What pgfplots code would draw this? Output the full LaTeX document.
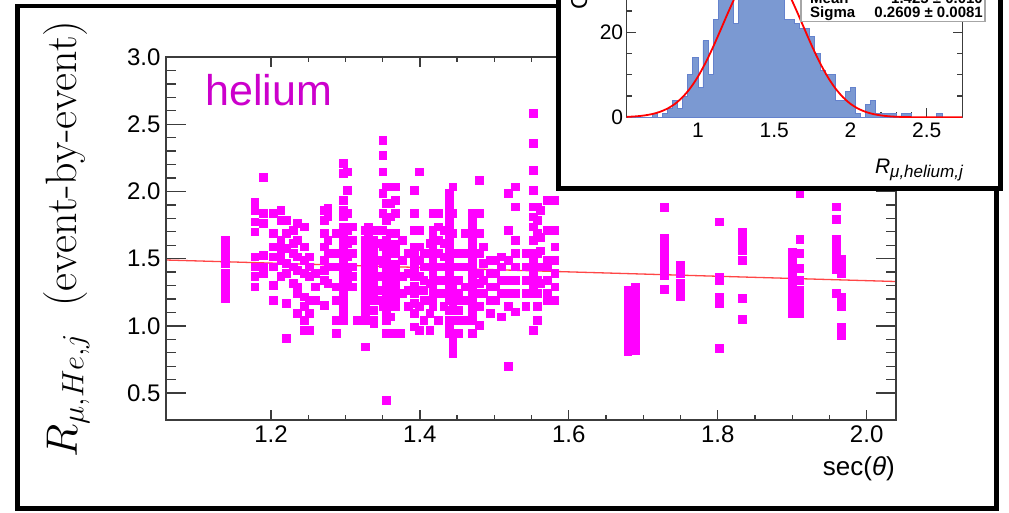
\documentclass[border=0pt]{standalone}
\IfFileExists{fix-cm.sty}{\usepackage{fix-cm}}{}
\usepackage{fontspec}
\newfontfamily\arial{Liberation Sans}
\usepackage{pgfplots}
\pgfplotsset{compat=1.18}
\definecolor{mag}{RGB}{255,0,255}
\definecolor{heliumc}{RGB}{204,0,204}
\definecolor{histfill}{RGB}{123,153,210}
\definecolor{histline}{RGB}{100,130,205}
\definecolor{fitred}{RGB}{255,70,70}
\definecolor{axgray}{RGB}{60,60,60}
\begin{document}
\begin{tikzpicture}[x=1pt,y=1pt]
\useasboundingbox (0,0) rectangle (1009,513);
\clip (0,0) rectangle (1009,513);
\fill[white] (0,0) rectangle (1009,513);
\draw[line width=4.5pt] (17.5,4.5) rectangle (996.5,507);
% ---------- main axis: y ticks + data ----------
\begin{axis}[
  at={(166pt,93pt)}, anchor=south west, scale only axis,
  width=730pt, height=363pt,
  xmin=1.059, xmax=2.0394, ymin=0.3, ymax=3.0,
  axis line style={axgray, line width=1.3pt},
  tick style={axgray, line width=1.3pt},
  tick align=inside,
  major tick length=20pt, minor tick length=10pt,
  xtick=\empty,
  ytick={0.5,1.0,1.5,2.0,2.5,3.0},
  yticklabels={0.5,1.0,1.5,2.0,2.5,3.0},
  minor y tick num=4,
  yticklabel style={font=\arial\fontsize{24}{24}\selectfont, xshift=-2pt},
  clip=true,
]
\addplot[only marks, mark=square*, mark size=3.9pt, color=mag, mark options={line width=0.3pt}]
table[row sep=\\]{
x y\\
1.138 1.639\\ 1.138 1.577\\ 1.138 1.515\\ 1.138 1.466\\ 1.138 1.391\\ 1.138 1.305\\ 1.138 1.243\\ 1.138 1.206\\ 1.138 1.35\\ 1.138 1.55\\
1.178 1.924\\ 1.178 1.862\\ 1.178 1.775\\ 1.178 1.701\\ 1.178 1.515\\ 1.178 1.441\\ 1.178 1.367\\ 1.178 1.292\\
1.189 2.109\\ 1.189 1.837\\ 1.189 1.763\\ 1.189 1.527\\ 1.189 1.441\\ 1.189 1.391\\
1.203 1.837\\ 1.203 1.688\\ 1.203 1.589\\ 1.203 1.515\\ 1.203 1.441\\ 1.203 1.305\\ 1.203 1.193\\
1.213 1.862\\ 1.213 1.788\\ 1.213 1.639\\ 1.213 1.589\\ 1.213 1.540\\ 1.213 1.490\\ 1.213 1.367\\
1.220 1.788\\ 1.220 1.688\\ 1.220 1.577\\ 1.220 1.466\\ 1.220 1.391\\ 1.220 1.168\\ 1.220 0.908\\
1.230 1.713\\ 1.230 1.614\\ 1.230 1.540\\ 1.230 1.441\\ 1.230 1.317\\
1.235 1.763\\ 1.235 1.639\\ 1.235 1.515\\ 1.235 1.416\\ 1.235 1.292\\ 1.235 1.243\\ 1.235 1.094\\
1.244 1.738\\ 1.244 1.589\\ 1.244 1.490\\ 1.244 1.391\\ 1.244 1.218\\ 1.244 1.144\\ 1.244 1.045\\ 1.244 0.970\\
1.251 1.515\\ 1.251 1.441\\ 1.251 1.367\\ 1.251 1.193\\ 1.251 1.094\\ 1.251 0.970\\
1.259 1.391\\ 1.259 1.292\\ 1.259 1.193\\
1.271 1.862\\ 1.271 1.788\\ 1.271 1.688\\ 1.271 1.589\\ 1.271 1.490\\ 1.271 1.416\\ 1.271 1.342\\ 1.271 1.156\\
1.276 1.874\\ 1.276 1.812\\ 1.276 1.639\\ 1.276 1.540\\ 1.276 1.441\\ 1.276 1.317\\
1.287 1.688\\ 1.287 1.540\\ 1.287 1.441\\ 1.287 1.292\\ 1.287 1.193\\ 1.287 1.045\\ 1.287 0.946\\
1.297 2.209\\ 1.297 2.134\\ 1.297 1.936\\ 1.297 1.862\\ 1.297 1.812\\ 1.297 1.738\\ 1.297 1.639\\ 1.297 1.540\\ 1.297 1.441\\ 1.297 1.367\\ 1.297 1.267\\ 1.297 1.193\\ 1.297 1.094\\ 1.297 1.045\\
1.297 1.69\\ 1.297 1.59\\ 1.297 1.49\\ 1.297 1.40\\ 1.297 1.32\\ 1.297 1.23\\ 1.297 1.14\\
1.302 2.147\\ 1.302 2.010\\ 1.302 1.837\\ 1.302 1.713\\ 1.302 1.614\\ 1.302 1.515\\ 1.302 1.416\\ 1.302 1.317\\
1.309 1.738\\ 1.309 1.639\\ 1.309 1.540\\ 1.309 1.441\\ 1.309 1.367\\ 1.309 1.292\\
1.316 1.045\\
1.326 1.713\\ 1.326 1.639\\ 1.326 1.540\\ 1.326 1.441\\ 1.326 1.342\\ 1.326 1.243\\ 1.326 1.144\\ 1.326 1.045\\ 1.326 0.846\\
1.326 1.59\\ 1.326 1.49\\ 1.326 1.39\\ 1.326 1.29\\ 1.326 1.19\\ 1.326 1.09\\
1.331 1.738\\ 1.331 1.688\\ 1.331 1.540\\ 1.331 1.391\\ 1.331 1.243\\ 1.331 1.119\\ 1.331 1.045\\
1.338 1.713\\ 1.338 1.639\\ 1.338 1.540\\ 1.338 1.441\\ 1.338 1.317\\ 1.338 1.193\\ 1.338 1.045\\ 1.338 1.020\\
1.338 1.59\\ 1.338 1.49\\ 1.338 1.38\\ 1.338 1.26\\ 1.338 1.12\\
1.345 1.713\\ 1.345 1.614\\ 1.345 1.490\\ 1.345 1.367\\ 1.345 1.267\\ 1.345 1.193\\
1.350 2.382\\ 1.350 2.270\\ 1.350 2.147\\ 1.350 1.986\\ 1.350 1.837\\ 1.350 1.713\\ 1.350 1.589\\ 1.350 1.466\\ 1.350 1.367\\ 1.350 1.267\\ 1.350 1.144\\
1.355 2.035\\ 1.355 1.911\\ 1.355 1.788\\ 1.355 1.639\\ 1.355 1.540\\ 1.355 1.441\\ 1.355 1.342\\ 1.355 1.243\\ 1.355 1.144\\ 1.355 1.045\\ 1.355 0.946\\ 1.355 0.450\\
1.355 1.59\\ 1.355 1.49\\ 1.355 1.39\\ 1.355 1.29\\ 1.355 1.19\\ 1.355 1.09\\
1.360 1.911\\ 1.360 1.812\\ 1.360 1.688\\ 1.360 1.565\\ 1.360 1.441\\ 1.360 1.317\\ 1.360 1.243\\ 1.360 1.069\\ 1.360 0.946\\
1.367 2.035\\ 1.367 1.936\\ 1.367 1.837\\ 1.367 1.688\\ 1.367 1.540\\ 1.367 1.391\\ 1.367 1.267\\ 1.367 1.144\\ 1.367 0.946\\
1.367 1.61\\ 1.367 1.46\\ 1.367 1.33\\ 1.367 1.20\\
1.374 0.946\\
1.376 1.639\\ 1.376 1.490\\ 1.376 1.367\\ 1.376 1.243\\
1.384 1.540\\ 1.384 1.391\\ 1.384 1.267\\ 1.384 1.144\\
1.392 2.010\\ 1.392 1.837\\ 1.392 1.713\\ 1.392 1.589\\ 1.392 1.466\\ 1.392 1.367\\ 1.392 1.243\\ 1.392 1.094\\ 1.392 0.995\\
1.392 1.53\\ 1.392 1.42\\ 1.392 1.30\\ 1.392 1.17\\
1.399 2.147\\ 1.399 1.713\\ 1.399 1.589\\ 1.399 1.490\\ 1.399 1.367\\ 1.399 1.267\\ 1.399 1.144\\ 1.399 0.970\\
1.405 1.540\\ 1.405 1.441\\ 1.405 1.342\\ 1.405 1.267\\ 1.405 1.193\\ 1.405 1.045\\
1.413 1.614\\ 1.413 1.540\\ 1.413 1.441\\ 1.413 1.317\\ 1.413 1.193\\ 1.413 1.094\\ 1.413 0.970\\
1.417 1.837\\ 1.417 1.713\\ 1.417 1.614\\ 1.417 1.490\\ 1.417 1.367\\ 1.417 1.267\\ 1.417 1.144\\
1.417 1.66\\ 1.417 1.55\\ 1.417 1.43\\ 1.417 1.31\\ 1.417 1.20\\
1.424 1.837\\ 1.424 1.738\\ 1.424 1.639\\ 1.424 1.540\\ 1.424 1.441\\ 1.424 1.342\\ 1.424 1.243\\ 1.424 1.045\\
1.432 1.713\\ 1.432 1.614\\ 1.432 1.515\\ 1.432 1.441\\ 1.432 1.342\\ 1.432 1.243\\ 1.432 1.144\\
1.439 1.986\\ 1.439 1.887\\ 1.439 1.788\\ 1.439 1.688\\ 1.439 1.589\\ 1.439 1.490\\ 1.439 1.391\\ 1.439 1.292\\ 1.439 1.193\\ 1.439 1.045\\ 1.439 0.946\\
1.439 1.94\\ 1.439 1.84\\ 1.439 1.74\\ 1.439 1.64\\ 1.439 1.54\\ 1.439 1.44\\ 1.439 1.34\\ 1.439 1.24\\ 1.439 1.12\\ 1.439 0.99\\
1.444 2.035\\ 1.444 1.837\\ 1.444 1.688\\ 1.444 1.540\\ 1.444 1.441\\ 1.444 1.292\\ 1.444 1.144\\ 1.444 0.896\\ 1.444 0.797\\
1.444 0.85\\
1.451 1.540\\ 1.451 1.441\\ 1.451 1.342\\ 1.451 1.243\\ 1.451 1.193\\ 1.451 1.119\\ 1.451 1.045\\ 1.451 0.946\\
1.461 1.688\\ 1.461 1.540\\ 1.461 1.441\\ 1.461 1.292\\ 1.461 1.193\\ 1.461 1.045\\
1.470 1.837\\ 1.470 1.738\\ 1.470 1.639\\ 1.470 1.540\\ 1.470 1.441\\ 1.470 1.342\\ 1.470 1.243\\ 1.470 1.144\\ 1.470 1.045\\ 1.470 0.946\\
1.470 1.79\\ 1.470 1.69\\ 1.470 1.59\\ 1.470 1.49\\ 1.470 1.39\\ 1.470 1.29\\ 1.470 1.19\\ 1.470 1.09\\
1.480 2.085\\ 1.480 1.837\\ 1.480 1.688\\ 1.480 1.540\\ 1.480 1.391\\ 1.480 1.317\\ 1.480 1.243\\ 1.480 1.144\\ 1.480 1.007\\
1.485 1.589\\ 1.485 1.466\\ 1.485 1.342\\ 1.485 1.243\\
1.494 1.490\\ 1.494 1.391\\ 1.494 1.292\\ 1.494 1.193\\ 1.494 1.094\\
1.501 1.490\\ 1.501 1.391\\ 1.501 1.292\\ 1.501 1.193\\
1.509 1.515\\ 1.509 1.441\\ 1.509 1.342\\ 1.509 1.243\\ 1.509 1.069\\
1.518 1.986\\ 1.518 1.713\\ 1.518 1.490\\ 1.518 1.342\\ 1.518 1.243\\ 1.518 1.144\\ 1.518 0.698\\
1.528 2.035\\ 1.528 1.887\\ 1.528 1.639\\ 1.528 1.540\\ 1.528 1.441\\ 1.528 1.342\\ 1.528 1.243\\ 1.528 1.106\\
1.542 1.540\\ 1.542 1.441\\ 1.542 1.342\\ 1.542 1.243\\ 1.542 1.144\\
1.552 2.580\\ 1.552 2.357\\ 1.552 2.159\\ 1.552 2.010\\ 1.552 1.887\\ 1.552 1.812\\ 1.552 1.738\\ 1.552 1.540\\ 1.552 1.441\\ 1.552 1.342\\ 1.552 1.243\\ 1.552 0.970\\
1.552 1.64\\ 1.552 1.49\\ 1.552 1.39\\ 1.552 1.29\\
1.557 1.887\\ 1.557 1.788\\ 1.557 1.688\\ 1.557 1.540\\ 1.557 1.441\\ 1.557 1.342\\ 1.557 1.243\\ 1.557 1.144\\ 1.557 1.045\\
1.562 1.86\\ 1.562 1.66\\ 1.562 1.56\\ 1.562 1.44\\ 1.562 1.32\\
1.571 1.936\\ 1.571 1.713\\ 1.571 1.490\\ 1.571 1.441\\ 1.571 1.342\\ 1.571 1.243\\ 1.571 1.193\\
1.581 1.936\\ 1.581 1.713\\ 1.581 1.589\\ 1.581 1.490\\ 1.581 1.391\\ 1.581 1.292\\ 1.581 1.193\\
1.679 1.267\\ 1.679 1.21\\ 1.679 1.156\\ 1.679 1.11\\ 1.679 1.069\\ 1.679 1.03\\ 1.679 0.995\\ 1.679 0.96\\ 1.679 0.933\\ 1.679 0.87\\ 1.679 0.809\\
1.689 1.292\\ 1.689 1.24\\ 1.689 1.181\\ 1.689 1.14\\ 1.689 1.106\\ 1.689 1.045\\ 1.689 0.995\\ 1.689 0.933\\ 1.689 0.871\\ 1.689 0.822\\
1.728 1.882\\ 1.728 1.652\\ 1.728 1.62\\ 1.728 1.589\\ 1.728 1.552\\ 1.728 1.50\\ 1.728 1.466\\ 1.728 1.416\\ 1.728 1.379\\ 1.728 1.272\\
1.750 1.453\\ 1.750 1.391\\ 1.750 1.317\\ 1.750 1.267\\ 1.750 1.218\\
1.802 1.775\\ 1.802 1.36\\ 1.802 1.342\\ 1.802 1.218\\ 1.802 1.169\\ 1.802 0.834\\
1.833 1.701\\ 1.833 1.66\\ 1.833 1.627\\ 1.833 1.60\\ 1.833 1.565\\ 1.833 1.490\\ 1.833 1.206\\ 1.833 1.050\\
1.900 1.552\\ 1.900 1.503\\ 1.900 1.47\\ 1.900 1.416\\ 1.900 1.366\\ 1.900 1.317\\ 1.900 1.25\\ 1.900 1.193\\ 1.900 1.143\\ 1.900 1.094\\
1.910 1.986\\ 1.910 1.644\\ 1.910 1.540\\ 1.910 1.429\\ 1.910 1.342\\ 1.910 1.267\\ 1.910 1.22\\ 1.910 1.181\\ 1.910 1.13\\ 1.910 1.094\\
1.959 1.887\\ 1.959 1.793\\ 1.959 1.644\\ 1.959 1.58\\ 1.959 1.528\\ 1.959 1.478\\ 1.959 1.421\\ 1.959 1.243\\
1.966 1.50\\ 1.966 1.478\\ 1.966 1.441\\ 1.966 1.391\\ 1.966 1.218\\ 1.966 1.18\\ 1.966 1.143\\ 1.966 0.995\\ 1.966 0.933\\
};
\addplot[fitred, line width=1.3pt] coordinates {(1.059,1.49) (2.0394,1.33)};
\end{axis}
% ---------- main axis: x ticks ----------
\begin{axis}[
  at={(166pt,93pt)}, anchor=south west, scale only axis,
  width=730pt, height=363pt,
  xmin=1.059, xmax=2.0394, ymin=0.3, ymax=3.0,
  axis line style={axgray, line width=1.3pt},
  tick style={axgray, line width=1.3pt},
  tick align=inside,
  major tick length=10pt, minor tick length=5pt,
  ytick=\empty,
  xtick={1.2,1.4,1.6,1.8,2.0},
  xticklabels={1.2,1.4,1.6,1.8,2.0},
  minor x tick num=3,
  xticklabel style={font=\arial\fontsize{24}{24}\selectfont, yshift=-2pt},
]
\end{axis}
\node[font=\arial\fontsize{43}{43}\selectfont, text=heliumc, anchor=base west, inner sep=0pt] at (205,407) {helium};
\node[font=\arial\fontsize{26}{26}\selectfont, anchor=base east, inner sep=0pt] at (895,37) {sec(\textit{θ})};
\node[rotate=90, anchor=base, inner sep=0pt, font=\fontsize{44}{44}\selectfont] at (76.8,274) {$R_{\mu,He,j}$\ \ (event-by-event)};
% ---------- inset ----------
\fill[white] (558.5,324.5) rectangle (1000.5,560);
\draw[line width=4.5pt] (558.5,324.5) rectangle (1000.5,560);
\begin{axis}[
  at={(626.7pt,395.7pt)}, anchor=south west, scale only axis,
  width=335.6pt, height=191.25pt,
  xmin=0.5333, xmax=2.7333, ymin=0, ymax=45,
  axis line style={axgray, line width=1.3pt},
  tick style={axgray, line width=1.3pt},
  tick align=inside,
  major tick length=9pt, minor tick length=5pt,
  xtick={1,1.5,2,2.5}, xticklabels={1,1.5,2,2.5},
  ytick={0,20,40}, yticklabels={0,20,40},
  minor x tick num=4, minor y tick num=3,
  xticklabel style={font=\arial\fontsize{21}{21}\selectfont, yshift=-2pt},
  yticklabel style={font=\arial\fontsize{21}{21}\selectfont},
  clip=true,
]
\addplot[const plot, fill=histfill, draw=histline, line width=0.8pt] table[row sep=\\]{
x y\\
0.5333 0\\ 0.5667 0\\ 0.6 0\\ 0.6333 0\\ 0.6667 0\\ 0.7 1\\ 0.7333 0\\ 0.7667 1\\ 0.8 2\\ 0.8333 4\\
0.8667 2\\ 0.9 5\\ 0.9333 10\\ 0.9667 14\\ 1.0 7\\ 1.0333 18\\ 1.0667 10\\ 1.1 23\\ 1.1333 30\\ 1.1667 32\\
1.2 33\\ 1.2333 22\\ 1.2667 36\\ 1.3 38\\ 1.3333 35\\ 1.3667 40\\ 1.4 37\\ 1.4333 36\\ 1.4667 38\\ 1.5 34\\
1.5333 31\\ 1.5667 23\\ 1.6 23\\ 1.6333 22\\ 1.6667 21\\ 1.7 21\\ 1.7333 19\\ 1.7667 15\\ 1.8 11\\ 1.8333 10\\
1.8667 10\\ 1.9 4\\ 1.9333 4\\ 1.9667 6\\ 2.0 7\\ 2.0333 1\\ 2.0667 0\\ 2.1 3\\ 2.1333 4\\ 2.1667 1\\
2.2 1\\ 2.2333 1\\ 2.2667 1\\ 2.3 0\\ 2.3333 1\\ 2.3667 1\\ 2.4 0\\ 2.4333 0\\ 2.4667 0\\ 2.5 0\\
2.5333 0\\ 2.5667 1\\ 2.6 0\\ 2.6333 0\\ 2.6667 0\\ 2.7 0\\ 2.7333 0\\
} \closedcycle;
\addplot[red, line width=1.8pt, smooth] coordinates {
(0.5333,0.09) (0.6,0.24) (0.65,0.44) (0.7,0.76) (0.75,1.27) (0.8,2.04) (0.85,3.17) (0.9,4.76)
(0.95,6.86) (1.0,9.55) (1.05,12.82) (1.1,16.57) (1.15,20.66) (1.2,24.82) (1.25,28.75) (1.3,32.10)
(1.35,34.54) (1.4,35.83) (1.425,36) (1.45,35.83) (1.5,34.54) (1.55,32.10) (1.6,28.75) (1.65,24.82)
(1.7,20.66) (1.75,16.57) (1.8,12.82) (1.85,9.55) (1.9,6.86) (1.95,4.76) (2.0,3.17) (2.05,2.04)
(2.1,1.27) (2.15,0.76) (2.2,0.44) (2.25,0.24) (2.3,0.13) (2.4,0.03) (2.5,0.01) (2.6,0) (2.7333,0)
};
\end{axis}
\draw[fill=white, draw=gray!70, line width=1.5pt] (801,491.3) rectangle (985,560);
\node[anchor=base west, inner sep=0pt, font=\arial\bfseries\fontsize{15}{15}\selectfont] at (810,495.7) {Sigma};
\node[anchor=base east, inner sep=0pt, font=\arial\bfseries\fontsize{15}{15}\selectfont] at (983,495.7) {0.2609 ± 0.0081};
\node[anchor=base west, inner sep=0pt, font=\arial\bfseries\fontsize{15}{15}\selectfont] at (810,509.5) {Mean};
\node[anchor=base east, inner sep=0pt, font=\arial\bfseries\fontsize{15}{15}\selectfont] at (983,509.5) {1.425 ± 0.010};
\node[rotate=90, anchor=base west, inner sep=0pt, font=\arial\fontsize{23}{23}\selectfont] at (587,503) {Counts};
\node[anchor=base east, inner sep=0pt, font=\arial\itshape\fontsize{21}{21}\selectfont] at (963,339) {R\raisebox{-4pt}{\fontsize{17}{17}\selectfont μ,helium,j}};
\end{tikzpicture}
\end{document}
